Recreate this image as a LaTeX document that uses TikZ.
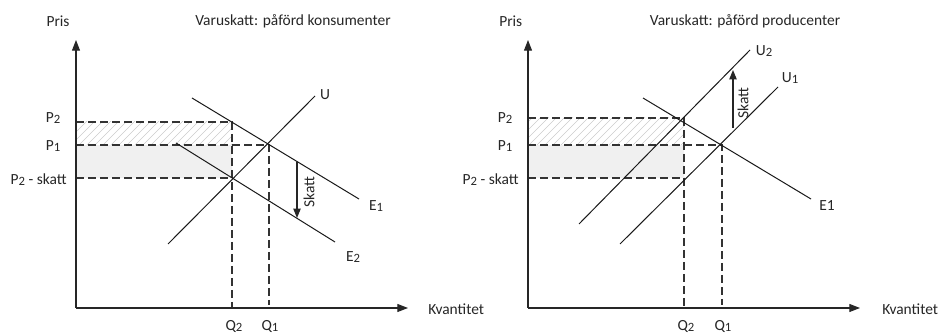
\documentclass[tikz,border=0pt]{standalone}
\usepackage{fontspec}
\setmainfont{Carlito}
\usetikzlibrary{arrows.meta}
\newcommand{\subd}[1]{\raisebox{-0.6pt}{\fontsize{9.5}{10}\selectfont #1}}
\begin{document}
\begin{tikzpicture}[x=0.75pt,y=-0.75pt,
  font=\fontsize{11.6}{13}\selectfont, text=black!85,
  curve/.style={line width=0.75pt, black!90},
  guide/.style={dash pattern=on 6pt off 3pt, line width=0.8pt, black!80},
  axis/.style={line width=0.8pt, black!85, -{Triangle[length=8pt,width=6pt]}},
  taxarrow/.style={line width=0.8pt, black!85, -{Triangle[length=7pt,width=5.5pt]}},
  shade/.style={fill=black!6},
  hatch/.style={black!20, line width=0.4pt},
  lbl/.style={inner sep=0pt}]
\useasboundingbox (0,0) rectangle (940,334);

% ================= LEFT PANEL =================
\coordinate (LO) at (76,308);
\coordinate (LYt) at (76,40);
\coordinate (LXe) at (408,308);
\coordinate (LP2) at (76,122);
\coordinate (LP1) at (76,145);
\coordinate (LP3) at (76,178);
\coordinate (LA) at (232,122);
\coordinate (LB) at (269,145);
\coordinate (LC) at (232,178);
\coordinate (LQ2) at (232,308);
\coordinate (LQ1) at (269,305);

\fill[shade] (LP1) rectangle (LC);
\begin{scope}
  \clip (LP2) rectangle (LB -| LA);
  \foreach \i in {0,...,24} \draw[hatch] (50+\i*8,150) -- ++(32,-32);
\end{scope}

\draw[guide] (LP2) -- (LA) -- (LQ2);
\draw[guide] (LP1) -- (LB) -- (LQ1);
\draw[guide] (LP3) -- (LC);

\draw[axis] (LO) -- (LYt);
\draw[axis] (LO) -- (LXe);

\coordinate (LU0) at (168,244); \coordinate (LU1) at (315,96);
\coordinate (LE10) at (192,98); \coordinate (LE11) at (359,199);
\coordinate (LE20) at (176,143); \coordinate (LE21) at (335,242);
\draw[curve] (LU0) -- (LU1);
\draw[curve] (LE10) -- (LE11);
\draw[curve] (LE20) -- (LE21);

\coordinate (LS0) at (297,162); \coordinate (LS1) at (297,218);
\draw[taxarrow] (LS0) -- (LS1);
\node[lbl, rotate=90] (lskatt) at (309,192) {Skatt};

\node[lbl] (lpris) at (58,21) {Pris};
\node[lbl] (ltitle) at (293,21) {Varuskatt: påförd konsumenter};
\node[lbl, anchor=west] (lkv) at (428,309) {Kvantitet};
\node[lbl] (lp2) at (53,118) {P\subd{2}};
\node[lbl] (lp1) at (53,146) {P\subd{1}};
\node[lbl, anchor=east] (lp3) at (67,180) {P\subd{2} - skatt};
\node[lbl] (lq2) at (234,327) {Q\subd{2}};
\node[lbl] (lq1) at (270,327) {Q\subd{1}};
\node[lbl] (lu) at (325,95) {U};
\node[lbl] (le1) at (376,206) {E\subd{1}};
\node[lbl] (le2) at (353,257) {E\subd{2}};

% ================= RIGHT PANEL =================
\coordinate (RO) at (528,308);
\coordinate (RYt) at (528,40);
\coordinate (RXe) at (860,308);
\coordinate (RP2) at (528,118);
\coordinate (RP1) at (528,145);
\coordinate (RP3) at (528,178);
\coordinate (RA) at (684,118);
\coordinate (RB) at (722,145);
\coordinate (RC) at (684,178);
\coordinate (RQ2) at (684,308);
\coordinate (RQ1) at (722,305);

\fill[shade] (RP1) rectangle (RC);
\begin{scope}
  \clip (RP2) rectangle (RB -| RA);
  \foreach \i in {0,...,24} \draw[hatch] (500+\i*8,150) -- ++(36,-36);
\end{scope}

\draw[guide] (RP2) -- (RA) -- (RQ2);
\draw[guide] (RP1) -- (RB) -- (RQ1);
\draw[guide] (RP3) -- (RC);

\draw[axis] (RO) -- (RYt);
\draw[axis] (RO) -- (RXe);

\coordinate (RU20) at (579,224); \coordinate (RU21) at (750,50);
\coordinate (RU10) at (620,244); \coordinate (RU11) at (778,87);
\coordinate (RE0) at (643,98); \coordinate (RE1) at (811,199);
\draw[curve] (RU20) -- (RU21);
\draw[curve] (RU10) -- (RU11);
\draw[curve] (RE0) -- (RE1);

\coordinate (RS0) at (733,128); \coordinate (RS1) at (733,70);
\draw[taxarrow] (RS0) -- (RS1);
\node[lbl, rotate=90] (rskatt) at (743,103) {Skatt};

\node[lbl, anchor=west] (rpris) at (499,21) {Pris};
\node[lbl] (rtitle) at (745,21) {Varuskatt: påförd producenter};
\node[lbl, anchor=west] (rkv) at (882,309) {Kvantitet};
\node[lbl] (rp2) at (505,118) {P\subd{2}};
\node[lbl] (rp1) at (505,146) {P\subd{1}};
\node[lbl, anchor=east] (rp3) at (519,180) {P\subd{2} - skatt};
\node[lbl] (rq2) at (686,327) {Q\subd{2}};
\node[lbl] (rq1) at (723,327) {Q\subd{1}};
\node[lbl] (ru2) at (764,51) {U\subd{2}};
\node[lbl] (ru1) at (790,78) {U\subd{1}};
\node[lbl] (re1) at (827,206) {E1};
\end{tikzpicture}
\end{document}
